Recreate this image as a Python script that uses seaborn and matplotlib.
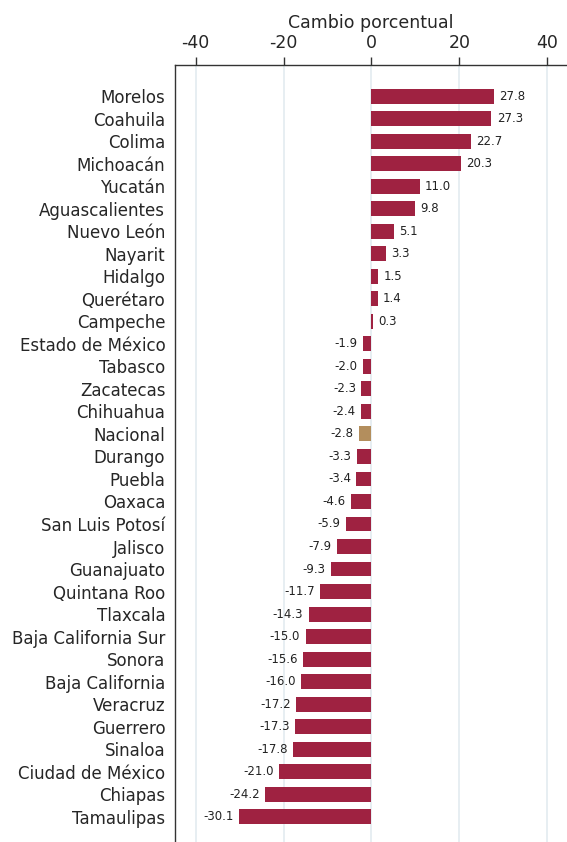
import pandas as pd
import matplotlib.pyplot as plt
import seaborn as sns

# Data: percentage change by state
estados = ['Morelos', 'Coahuila', 'Colima', 'Michoacán', 'Yucatán', 'Aguascalientes',
           'Nuevo León', 'Nayarit', 'Hidalgo', 'Querétaro', 'Campeche', 'Estado de México',
           'Tabasco', 'Zacatecas', 'Chihuahua', 'Nacional', 'Durango', 'Puebla', 'Oaxaca',
           'San Luis Potosí', 'Jalisco', 'Guanajuato', 'Quintana Roo', 'Tlaxcala',
           'Baja California Sur', 'Sonora', 'Baja California', 'Veracruz', 'Guerrero',
           'Sinaloa', 'Ciudad de México', 'Chiapas', 'Tamaulipas']
cambio = [27.8, 27.3, 22.7, 20.3, 11.0, 9.8, 5.1, 3.3, 1.5, 1.4, 0.3, -1.9, -2.0, -2.3,
          -2.4, -2.8, -3.3, -3.4, -4.6, -5.9, -7.9, -9.3, -11.7, -14.3, -15.0, -15.6,
          -16.0, -17.2, -17.3, -17.8, -21.0, -24.2, -30.1]
ticks = [-40, -20, 0, 20, 40]

df = pd.DataFrame({'estado': estados, 'cambio': cambio})
palette = ['#B38E5D' if e == 'Nacional' else '#9F2241' for e in estados]

sns.set_style('white')
plt.rcParams['font.family'] = ['DejaVu Sans']
plt.rcParams['axes.unicode_minus'] = False

fig = plt.figure(figsize=(5.67, 8.42), dpi=100)
ax = fig.add_axes([175 / 567, 0, (567 - 175) / 567, (842 - 65) / 842])

sns.barplot(data=df, x='cambio', y='estado', hue='estado', palette=palette,
            legend=False, width=0.66, saturation=1, linewidth=0, ax=ax, zorder=3)

# Value labels
for i, v in enumerate(cambio):
    if v >= 0:
        ax.text(v + 1.2, i, f'{v:.1f}', va='center', ha='left', fontsize=8.5, color='#222222')
    else:
        ax.text(v - 1.2, i, f'{v:.1f}', va='center', ha='right', fontsize=8.5, color='#222222')

ax.set_xlim(-44.7, 44.5)
ax.set_ylim(len(estados) - 1 + 1.12, -1.38)
ax.set_xticks(ticks)
ax.xaxis.tick_top()
ax.xaxis.set_label_position('top')
ax.set_xlabel('Cambio porcentual', fontsize=12.5, labelpad=5)
ax.set_ylabel('')
ax.tick_params(axis='x', labelsize=12.5, length=6, width=1, color='#333333', direction='out', pad=3)
ax.tick_params(axis='y', labelsize=12, length=0, pad=7)
ax.grid(axis='x', color='#e3ebf0', linewidth=1.2, zorder=0)
ax.set_axisbelow(True)

for side in ['right', 'bottom']:
    ax.spines[side].set_visible(False)
for side in ['top', 'left']:
    ax.spines[side].set_color('#333333')
    ax.spines[side].set_linewidth(1)

plt.savefig('out.png', dpi=100)
